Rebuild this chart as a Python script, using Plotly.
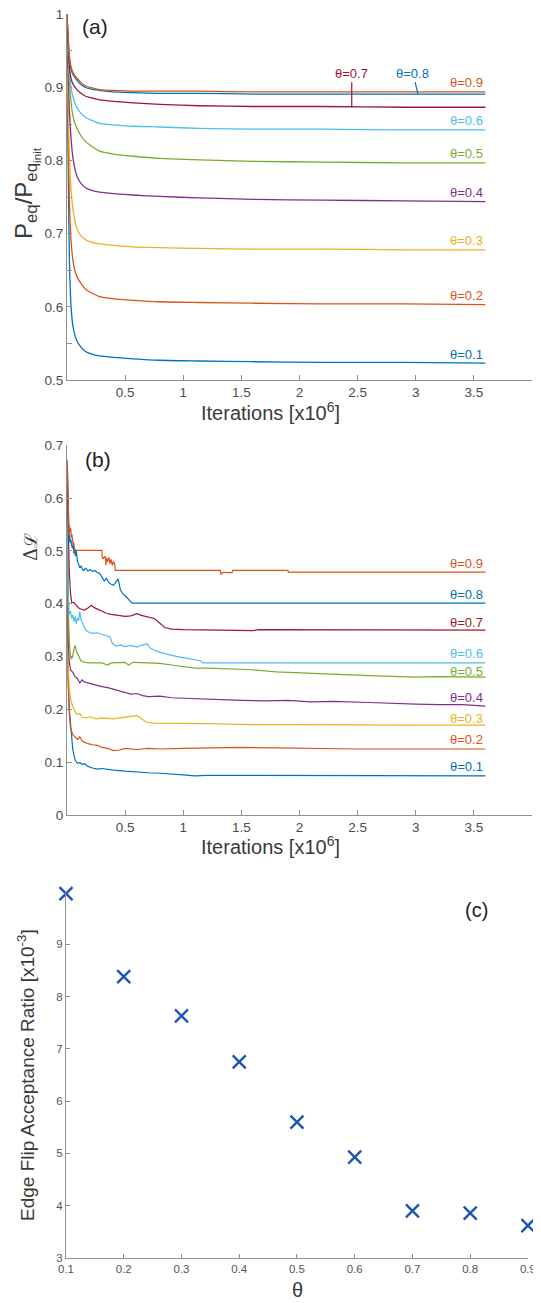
import plotly.graph_objects as go

# The page body has an 8px margin, so the figure is sized to fill the rest of the window
OFF = 8
W, H = 541 - OFF, 1303 - OFF

# ---------------- data ----------------
THETAS = ["0.1", "0.2", "0.3", "0.4", "0.5", "0.6", "0.7", "0.8", "0.9"]
COLORS = ["#0072BD", "#D95319", "#EDB120", "#7E2F8E", "#77AC30",
          "#4DBEEE", "#A2142F", "#0072BD", "#D95319"]

ITER_A = [0, 0.01, 0.02, 0.035, 0.05, 0.07, 0.09, 0.12, 0.16, 0.2, 0.28, 0.4,
          0.57, 0.8, 1.14, 1.6, 2.2, 2.9, 3.6]
PEQ_01 = [0.95, 0.80, 0.67, 0.60, 0.575, 0.56, 0.552, 0.545, 0.539, 0.536, 0.533,
          0.531, 0.529, 0.527, 0.526, 0.525, 0.524, 0.524, 0.523]
PEQ_02 = [0.95, 0.85, 0.75, 0.69, 0.665, 0.648, 0.640, 0.632, 0.624, 0.620, 0.614,
          0.611, 0.609, 0.607, 0.606, 0.605, 0.604, 0.604, 0.603]
PEQ_03 = [0.95, 0.88, 0.81, 0.76, 0.735, 0.716, 0.705, 0.697, 0.692, 0.689, 0.686,
          0.684, 0.682, 0.681, 0.680, 0.679, 0.679, 0.678, 0.678]
PEQ_04 = [0.96, 0.92, 0.87, 0.83, 0.805, 0.787, 0.777, 0.769, 0.763, 0.760, 0.757,
          0.755, 0.753, 0.751, 0.749, 0.747, 0.746, 0.745, 0.744]
PEQ_05 = [0.97, 0.94, 0.91, 0.88, 0.862, 0.850, 0.843, 0.834, 0.826, 0.821, 0.813,
          0.809, 0.806, 0.803, 0.801, 0.799, 0.798, 0.797, 0.797]
PEQ_06 = [0.975, 0.95, 0.925, 0.90, 0.888, 0.878, 0.871, 0.865, 0.859, 0.856, 0.851,
          0.849, 0.847, 0.846, 0.844, 0.843, 0.843, 0.842, 0.842]
PEQ_07 = [1.0, 0.96, 0.93, 0.912, 0.905, 0.900, 0.896, 0.892, 0.888, 0.886, 0.883,
          0.881, 0.879, 0.877, 0.875, 0.874, 0.874, 0.873, 0.873]
PEQ_08 = [1.0, 0.965, 0.94, 0.925, 0.918, 0.913, 0.909, 0.904, 0.900, 0.898, 0.896,
          0.894, 0.893, 0.892, 0.892, 0.891, 0.891, 0.891, 0.891]
PEQ_09 = [1.0, 0.97, 0.945, 0.928, 0.921, 0.916, 0.912, 0.907, 0.902, 0.900, 0.897,
          0.896, 0.895, 0.895, 0.895, 0.894, 0.894, 0.894, 0.894]

DL_01 = [(0.003, 0.50), (0.01, 0.26), (0.02, 0.2), (0.03, 0.17), (0.04, 0.14), (0.05, 0.123),
         (0.07, 0.104), (0.09, 0.098), (0.11, 0.099), (0.13, 0.096), (0.15, 0.097), (0.18, 0.092),
         (0.22, 0.089), (0.26, 0.087), (0.30, 0.088), (0.35, 0.086), (0.40, 0.085), (0.50, 0.083),
         (0.60, 0.081), (0.70, 0.080), (0.80, 0.079), (0.90, 0.078), (1.0, 0.076), (1.1, 0.074),
         (1.2, 0.075), (1.5, 0.075), (2.0, 0.075), (2.5, 0.075), (3.0, 0.074), (3.6, 0.074)]
DL_02 = [(0.003, 0.52), (0.01, 0.25), (0.02, 0.19), (0.03, 0.165), (0.05, 0.152), (0.07, 0.147),
         (0.09, 0.143), (0.11, 0.148), (0.13, 0.140), (0.15, 0.138), (0.18, 0.135), (0.22, 0.133),
         (0.26, 0.132), (0.30, 0.128), (0.35, 0.126), (0.40, 0.122), (0.45, 0.123), (0.50, 0.126),
         (0.60, 0.124), (0.70, 0.126), (0.80, 0.125), (1.0, 0.126), (1.2, 0.127), (1.5, 0.128),
         (1.8, 0.127), (2.1, 0.126), (2.5, 0.125), (3.0, 0.125), (3.6, 0.125)]
DL_03 = [(0.003, 0.54), (0.01, 0.29), (0.02, 0.24), (0.03, 0.22), (0.05, 0.205), (0.07, 0.195),
         (0.09, 0.190), (0.11, 0.192), (0.13, 0.185), (0.16, 0.184), (0.20, 0.186), (0.25, 0.182),
         (0.30, 0.184), (0.35, 0.183), (0.40, 0.182), (0.45, 0.184), (0.50, 0.185), (0.55, 0.186),
         (0.60, 0.188), (0.63, 0.184), (0.68, 0.176), (0.75, 0.174), (0.85, 0.174), (1.0, 0.174),
         (1.2, 0.173), (1.4, 0.172), (1.6, 0.171), (2.0, 0.171), (2.5, 0.170), (3.0, 0.170),
         (3.6, 0.170)]
DL_04 = [(0.003, 0.56), (0.01, 0.33), (0.02, 0.29), (0.03, 0.275), (0.05, 0.270), (0.07, 0.262),
         (0.09, 0.258), (0.11, 0.250), (0.13, 0.256), (0.15, 0.252), (0.18, 0.250), (0.21, 0.248),
         (0.25, 0.246), (0.30, 0.243), (0.35, 0.241), (0.40, 0.238), (0.45, 0.236), (0.50, 0.232),
         (0.55, 0.229), (0.60, 0.230), (0.65, 0.226), (0.70, 0.224), (0.80, 0.225), (0.90, 0.222),
         (1.0, 0.221), (1.1, 0.220), (1.3, 0.219), (1.5, 0.217), (1.7, 0.216), (1.9, 0.217),
         (2.1, 0.214), (2.3, 0.215), (2.6, 0.213), (2.8, 0.211), (3.0, 0.210), (3.2, 0.209),
         (3.4, 0.209), (3.6, 0.206)]
DL_05 = [(0.003, 0.58), (0.01, 0.40), (0.02, 0.33), (0.03, 0.30), (0.04, 0.295), (0.05, 0.302),
         (0.06, 0.315), (0.07, 0.321), (0.08, 0.310), (0.09, 0.305), (0.10, 0.300), (0.12, 0.292),
         (0.15, 0.289), (0.20, 0.288), (0.30, 0.288), (0.35, 0.284), (0.38, 0.288), (0.50, 0.289),
         (0.53, 0.284), (0.57, 0.289), (0.70, 0.288), (0.80, 0.287), (0.90, 0.284), (1.0, 0.281),
         (1.1, 0.278), (1.2, 0.278), (1.4, 0.277), (1.6, 0.275), (1.8, 0.271), (2.0, 0.269),
         (2.3, 0.266), (2.6, 0.264), (3.0, 0.261), (3.2, 0.262), (3.6, 0.261)]
DL_06 = [(0.003, 0.60), (0.01, 0.42), (0.02, 0.38), (0.03, 0.386), (0.04, 0.372), (0.05, 0.379),
         (0.06, 0.366), (0.07, 0.376), (0.08, 0.362), (0.09, 0.373), (0.10, 0.368), (0.11, 0.385),
         (0.12, 0.370), (0.14, 0.360), (0.16, 0.350), (0.19, 0.346), (0.22, 0.344), (0.26, 0.345),
         (0.30, 0.342), (0.34, 0.338), (0.37, 0.337), (0.39, 0.325), (0.42, 0.320), (0.46, 0.322),
         (0.50, 0.319), (0.55, 0.321), (0.60, 0.318), (0.65, 0.322), (0.69, 0.324), (0.72, 0.315),
         (0.76, 0.311), (0.80, 0.308), (0.85, 0.305), (0.90, 0.302), (0.95, 0.300), (1.0, 0.298),
         (1.05, 0.296), (1.10, 0.294), (1.15, 0.292), (1.17, 0.288), (3.6, 0.288)]
DL_07 = [(0.003, 0.62), (0.01, 0.52), (0.02, 0.46), (0.03, 0.42), (0.04, 0.403), (0.06, 0.402),
         (0.08, 0.396), (0.10, 0.392), (0.12, 0.390), (0.15, 0.388), (0.18, 0.392), (0.21, 0.397),
         (0.23, 0.393), (0.26, 0.390), (0.30, 0.385), (0.34, 0.382), (0.38, 0.380), (0.42, 0.379),
         (0.46, 0.377), (0.50, 0.376), (0.55, 0.377), (0.60, 0.381), (0.64, 0.378), (0.70, 0.375),
         (0.75, 0.372), (0.80, 0.363), (0.84, 0.355), (0.90, 0.352), (1.0, 0.351), (1.3, 0.350),
         (1.6, 0.349), (1.65, 0.351), (2.0, 0.351), (2.5, 0.350), (3.0, 0.350), (3.6, 0.350)]
DL_08 = [(0.003, 0.66), (0.008, 0.62), (0.012, 0.56), (0.017, 0.52), (0.022, 0.53), (0.027, 0.515),
         (0.033, 0.522), (0.04, 0.51), (0.047, 0.505), (0.053, 0.512), (0.06, 0.495), (0.066, 0.505),
         (0.072, 0.49), (0.08, 0.50), (0.09, 0.48), (0.10, 0.475), (0.11, 0.468), (0.12, 0.471),
         (0.14, 0.463), (0.16, 0.467), (0.18, 0.462), (0.20, 0.465), (0.22, 0.461), (0.24, 0.463),
         (0.26, 0.459), (0.28, 0.458), (0.30, 0.450), (0.32, 0.443), (0.34, 0.448), (0.36, 0.440),
         (0.38, 0.437), (0.40, 0.435), (0.42, 0.441), (0.44, 0.447), (0.46, 0.426), (0.48, 0.419),
         (0.50, 0.415), (0.52, 0.410), (0.54, 0.406), (0.56, 0.401), (3.6, 0.401)]
DL_09 = [(0.002, 0.672), (0.008, 0.60), (0.013, 0.55), (0.018, 0.53), (0.022, 0.548), (0.027, 0.535),
         (0.032, 0.543), (0.037, 0.525), (0.042, 0.532), (0.047, 0.52), (0.052, 0.512), (0.057, 0.516),
         (0.062, 0.505), (0.068, 0.50), (0.075, 0.501), (0.30, 0.501), (0.302, 0.49), (0.31, 0.485),
         (0.32, 0.488), (0.33, 0.49), (0.335, 0.473), (0.34, 0.486), (0.35, 0.48), (0.36, 0.488),
         (0.37, 0.476), (0.38, 0.484), (0.39, 0.472), (0.40, 0.48), (0.41, 0.476), (0.415, 0.463),
         (1.32, 0.463), (1.325, 0.456), (1.35, 0.46), (1.37, 0.459), (1.42, 0.459), (1.425, 0.463),
         (1.9, 0.463), (1.905, 0.46), (3.6, 0.46)]

THETA_C = [0.1, 0.2, 0.3, 0.4, 0.5, 0.6, 0.7, 0.8, 0.9]
ACCEPT = [9.97, 8.38, 7.63, 6.75, 5.60, 4.93, 3.90, 3.86, 3.62]

X_TICKS_AB = [0.5, 1, 1.5, 2, 2.5, 3, 3.5, 4]
X_TICKTEXT_AB = ["0.5", "1", "1.5", "2", "2.5", "3", "3.5", ""]
Y_TICKS_A = [0.5, 0.55, 0.6, 0.65, 0.7, 0.75, 0.8, 0.85, 0.9, 0.95, 1.0]
Y_TICKTEXT_A = ["0.5", "", "0.6", "", "0.7", "", "0.8", "", "0.9", "", "1"]
Y_TICKS_B = [0, 0.1, 0.2, 0.3, 0.4, 0.5, 0.6, 0.7]
Y_TICKTEXT_B = ["0", "0.1", "0.2", "0.3", "0.4", "0.5", "0.6", "0.7"]
Y_TICKS_C = [3, 4, 5, 6, 7, 8, 9]

# ---------------- figure ----------------
FONT = "Liberation Sans, Arial, Helvetica, sans-serif"
AXCOL = "#8f8f8f"
TICKCOL = "#4d4d4d"
TITLECOL = "#3a3a3a"

PEQ = [PEQ_01, PEQ_02, PEQ_03, PEQ_04, PEQ_05, PEQ_06, PEQ_07, PEQ_08, PEQ_09]
DL = [DL_01, DL_02, DL_03, DL_04, DL_05, DL_06, DL_07, DL_08, DL_09]


# helpers: convert window pixel positions to paper fractions
def xd(x0, x1):
    return [(x0 - OFF) / W, (x1 - OFF) / W]


def yd(ytop, ybot):
    return [1 - (ybot - OFF) / H, 1 - (ytop - OFF) / H]


def px(x):
    return (x - OFF) / W


def py(y):
    return 1 - (y - OFF) / H


fig = go.Figure()

for th, col, vals in zip(THETAS, COLORS, PEQ):
    fig.add_trace(go.Scatter(x=ITER_A, y=vals, mode="lines", xaxis="x", yaxis="y",
                             line=dict(color=col, width=1.3, shape="spline", smoothing=0.6),
                             showlegend=False, name="θ=" + th))

for th, col, pairs in zip(THETAS, COLORS, DL):
    fig.add_trace(go.Scatter(x=[p[0] for p in pairs], y=[p[1] for p in pairs], mode="lines",
                             xaxis="x2", yaxis="y2",
                             line=dict(color=col, width=1.2),
                             showlegend=False, name="θ=" + th))

fig.add_trace(go.Scatter(x=THETA_C, y=ACCEPT, mode="markers", xaxis="x3", yaxis="y3",
                         marker=dict(symbol="x-thin", size=13, color="#1f55b0",
                                     line=dict(color="#1f55b0", width=2.4)),
                         cliponaxis=False, showlegend=False))

axis_common = dict(showline=True, linecolor=AXCOL, linewidth=1, ticks="inside",
                   ticklen=5, tickcolor=AXCOL, showgrid=False, zeroline=False,
                   automargin=False, ticklabeloverflow="allow",
                   tickfont=dict(family=FONT, size=13.5, color=TICKCOL))
small_ticks = dict(family=FONT, size=11.5, color="#555555")

fig.update_layout(
    width=W, height=H, margin=dict(l=0, r=0, t=0, b=0, pad=0, autoexpand=False),
    paper_bgcolor="white", plot_bgcolor="white",
    font=dict(family=FONT, color=TITLECOL),
    xaxis=dict(domain=xd(67, 532), range=[0, 4.001], anchor="y",
               tickvals=X_TICKS_AB, ticktext=X_TICKTEXT_AB, **axis_common),
    yaxis=dict(domain=yd(14, 380), range=[0.5, 1.0005], anchor="x",
               tickvals=Y_TICKS_A, ticktext=Y_TICKTEXT_A, **axis_common),
    xaxis2=dict(domain=xd(67, 532), range=[0, 4.001], anchor="y2",
                tickvals=X_TICKS_AB, ticktext=X_TICKTEXT_AB, **axis_common),
    yaxis2=dict(domain=yd(445, 815), range=[0, 0.7005], anchor="x2",
                tickvals=Y_TICKS_B, ticktext=Y_TICKTEXT_B, **axis_common),
    xaxis3=dict(domain=xd(66, 528), range=[0.1, 0.9001], anchor="y3",
                tickvals=THETA_C, ticktext=[str(t) for t in THETA_C],
                **{**axis_common, "tickfont": small_ticks, "ticklen": 4}),
    yaxis3=dict(domain=yd(892, 1258), range=[3, 10], anchor="x3",
                tickvals=Y_TICKS_C, ticktext=[str(t) for t in Y_TICKS_C],
                **{**axis_common, "tickfont": small_ticks, "ticklen": 4}),
)

ann = []


def paper_text(x, y, text, size, family=FONT, color=TITLECOL, angle=0):
    ann.append(dict(x=px(x), y=py(y), xref="paper", yref="paper", text=text,
                    xanchor="center", yanchor="middle", textangle=angle,
                    showarrow=False, font=dict(family=family, size=size, color=color)))


paper_text(95, 26, "(a)", 21, color="#222222")
paper_text(98, 459, "(b)", 21, color="#222222")
paper_text(477, 910, "(c)", 20, color="#222222")

paper_text(27, 193, "P<sub>eq</sub>/P<sub>eq<sub>init</sub></sub>", 24, angle=-90)
paper_text(270, 412, "Iterations [x10<sup>6</sup>]", 20)
paper_text(30, 547, "Δℒ", 18, family="DejaVu Serif, serif", angle=-90)
paper_text(270, 845, "Iterations [x10<sup>6</sup>]", 20)
paper_text(26, 1075, "Edge Flip Acceptance Ratio [x10<sup>-3</sup>]", 19, angle=-90)
paper_text(297, 1290, "θ", 20)

for th, col, vals in zip(THETAS, COLORS, PEQ):
    if th in ("0.7", "0.8"):
        continue
    ann.append(dict(x=3.6, y=vals[-1], xref="x", yref="y", text="θ=" + th,
                    xanchor="right", yanchor="middle", yshift=9, showarrow=False,
                    font=dict(family=FONT, size=13, color=col)))
ann.append(dict(x=2.45, y=PEQ_07[-1], xref="x", yref="y", text="θ=0.7",
                showarrow=True, arrowhead=0, arrowwidth=1.2, arrowcolor=COLORS[6],
                ax=0, ay=-34, font=dict(family=FONT, size=13, color=COLORS[6])))
ann.append(dict(x=3.02, y=PEQ_08[-1], xref="x", yref="y", text="θ=0.8",
                showarrow=True, arrowhead=0, arrowwidth=1.2, arrowcolor=COLORS[7],
                ax=-5, ay=-21, font=dict(family=FONT, size=13, color=COLORS[7])))

shifts_b = {"0.5": 6, "0.3": 7, "0.7": 8}
for th, col, pairs in zip(THETAS, COLORS, DL):
    ann.append(dict(x=3.6, y=pairs[-1][1], xref="x2", yref="y2", text="θ=" + th,
                    xanchor="right", yanchor="middle", yshift=shifts_b.get(th, 9),
                    showarrow=False, font=dict(family=FONT, size=13, color=col)))

fig.update_layout(annotations=ann)

fig.write_html("out.html")
